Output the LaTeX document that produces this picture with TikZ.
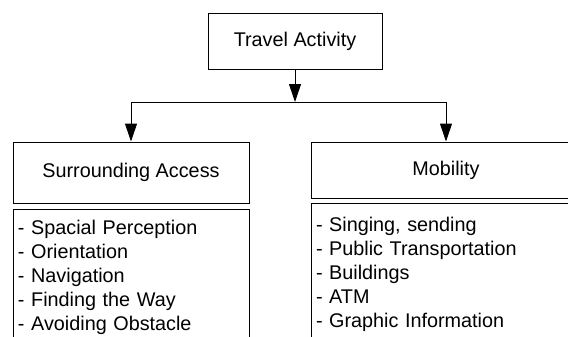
\documentclass[tikz,border=0pt]{standalone}
\usepackage{fontspec}
\setmainfont{Liberation Sans}
\usetikzlibrary{arrows.meta}

\begin{document}
\begin{tikzpicture}[x=0.5pt,y=-0.5pt,font=\fontsize{9.9}{12}\selectfont,
   line width=0.5pt,>={Triangle[length=9pt,width=6pt]},
   headbox/.style={draw,inner sep=0pt,minimum width=#1},
   listbox/.style={draw,anchor=north,inner xsep=2.5pt,align=left,text width=#1,text depth=70pt}]
% Page (the right column and the lists run past its edges)
   \clip (0,0) rectangle (568,337);
% Top box
   \node [headbox=87pt,minimum height=28pt] (travel) at (295,41) {Travel Activity};
% Second level
   \node [headbox=118pt,minimum height=30.5pt] (access) at (131,172.5) {Surrounding Access};
   \node [headbox=135pt,minimum height=28pt] (mobility) at (446,170) {Mobility};
% Lists below
   \node [listbox=113pt,inner ysep=5.5pt] (accesslist) at (131,209)
        {- Spacial Perception\\- Orientation\\- Navigation\\- Finding the Way\\- Avoiding Obstacle};
   \node [listbox=130pt,inner ysep=7pt] (mobilitylist) at (446,203)
        {- Singing, sending\\- Public Transportation\\- Buildings\\- ATM\\- Graphic Information};
% Connectors
   \coordinate (split) at (295,102);
   \draw [->] (travel) -- (split);
   \draw [->] (split) -| (access);
   \draw [->] (split) -| (mobility);
\end{tikzpicture}
\end{document}
